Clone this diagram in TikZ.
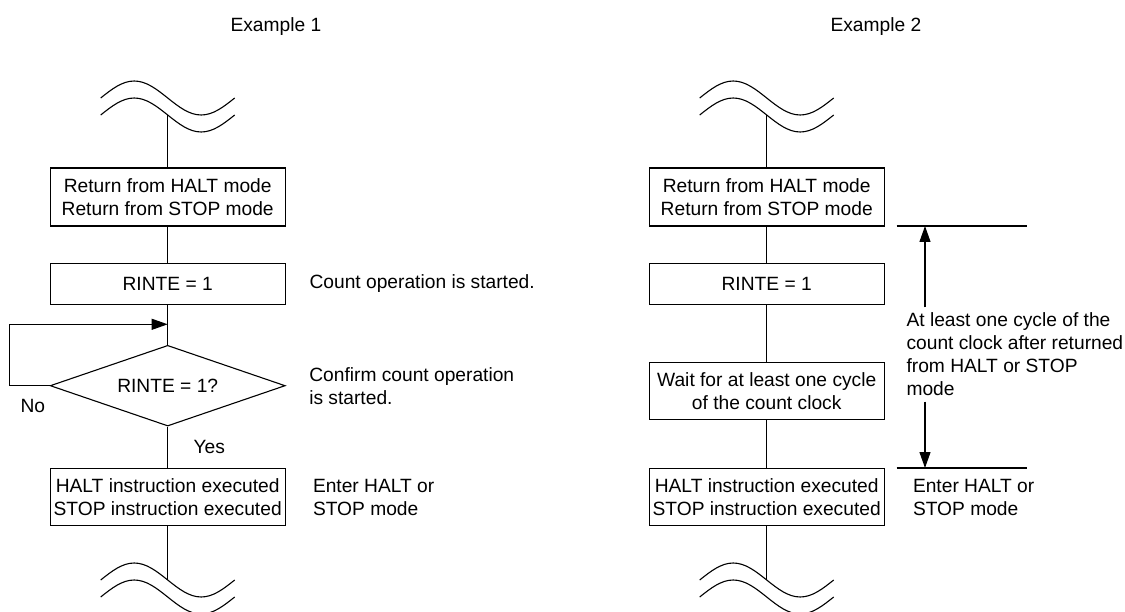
\documentclass[tikz,border=0pt]{standalone}
\usepackage{fontspec}
\setmainfont{Liberation Sans}
\usetikzlibrary{arrows.meta,shapes.geometric}
\newcommand\wavepair[2]{%
  \draw (#1-67,#2) sin (#1-33.5,#2-17) cos (#1,#2) sin (#1+33.5,#2+17) cos (#1+67,#2);
  \draw (#1-67,#2+17) sin (#1-33.5,#2) cos (#1,#2+17) sin (#1+33.5,#2+34) cos (#1+67,#2+17);
}
\begin{document}
\begin{tikzpicture}[x=1pt,y=-1pt, line width=1.1pt,
  font=\fontsize{19.2}{23}\selectfont,
  box/.style={draw, rectangle, minimum width=235pt, inner sep=0pt, align=center},
  arr/.style={-{Triangle[length=16pt,width=11pt]}},
  note/.style={inner sep=0pt, align=left}]
\useasboundingbox (0,0) rectangle (1125,612);
\clip (0,0) rectangle (1125,612);
\def\cxa{167.7}
\def\cxb{766.7}

% ---------- Example 1 ----------
\node[anchor=base west, inner sep=0pt] (t1) at (230,31.7) {Example 1};
\wavepair{\cxa}{98}
\coordinate (wa1) at (\cxa,115);
\node[box, minimum height=58pt] (ra) at (\cxa,197) {Return from HALT mode\\Return from STOP mode};
\node[box, minimum height=41pt] (ia) at (\cxa,283.8) {RINTE = 1};
\node[draw, diamond, aspect=2.91, minimum width=235pt, minimum height=80.7pt, inner sep=0pt] (da) at (\cxa,385.7) {RINTE = 1?};
\node[box, minimum height=57.4pt] (ha) at (\cxa,497) {HALT instruction executed\\STOP instruction executed};
\wavepair{\cxa}{580}
\coordinate (wa2) at (\cxa,580);

\draw (wa1) -- (ra);
\draw (ra) -- (ia);
\draw (ia) -- (da);
\draw (da) -- (ha);
\draw (ha) -- (wa2);
\coordinate (ja) at (\cxa,324.3);
\coordinate (la) at (9.3,385.7);
\draw[arr] (da.west) -- (la) |- (ja);

\node[anchor=base west, inner sep=0pt] (no) at (20,412) {No};
\node[anchor=base west, inner sep=0pt] (yes) at (193,453.3) {Yes};
\node[note, anchor=west] (ca) at ([xshift=23.3pt]ia.east) {Count operation is started.};
\node[note, anchor=west] (cb) at ([xshift=23pt]da.east) {Confirm count operation\\is started.};
\node[note, anchor=west] (ea) at ([xshift=26.7pt]ha.east) {Enter HALT or\\STOP mode};

% ---------- Example 2 ----------
\node[anchor=base west, inner sep=0pt] (t2) at (830,31.7) {Example 2};
\wavepair{\cxb}{98}
\coordinate (wb1) at (\cxb,115);
\node[box, minimum height=58pt] (rb) at (\cxb,197) {Return from HALT mode\\Return from STOP mode};
\node[box, minimum height=41pt] (ib) at (\cxb,283.8) {RINTE = 1};
\node[box, minimum height=57pt] (wb) at (\cxb,390.8) {Wait for at least one cycle\\of the count clock};
\node[box, minimum height=57.4pt] (hb) at (\cxb,497) {HALT instruction executed\\STOP instruction executed};
\wavepair{\cxb}{580}
\coordinate (wb2) at (\cxb,580);

\draw (wb1) -- (rb);
\draw (rb) -- (ib);
\draw (ib) -- (wb);
\draw (wb) -- (hb);
\draw (hb) -- (wb2);

\node[note, anchor=west] (eb) at ([xshift=27.7pt]hb.east) {Enter HALT or\\STOP mode};

\coordinate (d1l) at (896.7,226);
\coordinate (d1r) at (1026.7,226);
\coordinate (d2l) at (896.7,468);
\coordinate (d2r) at (1026.7,468);
\draw (d1l) -- (d1r);
\draw (d2l) -- (d2r);
\node[note, inner ysep=5pt, anchor=north west] (span) at (906,307.3) {At least one cycle of the\\count clock after returned\\from HALT or STOP\\mode};
\coordinate (ta) at (925,226);
\coordinate (tb) at (925,468);
\draw[arr] (span.north -| ta) -- (ta);
\draw[arr] (span.south -| tb) -- (tb);
\end{tikzpicture}
\end{document}
